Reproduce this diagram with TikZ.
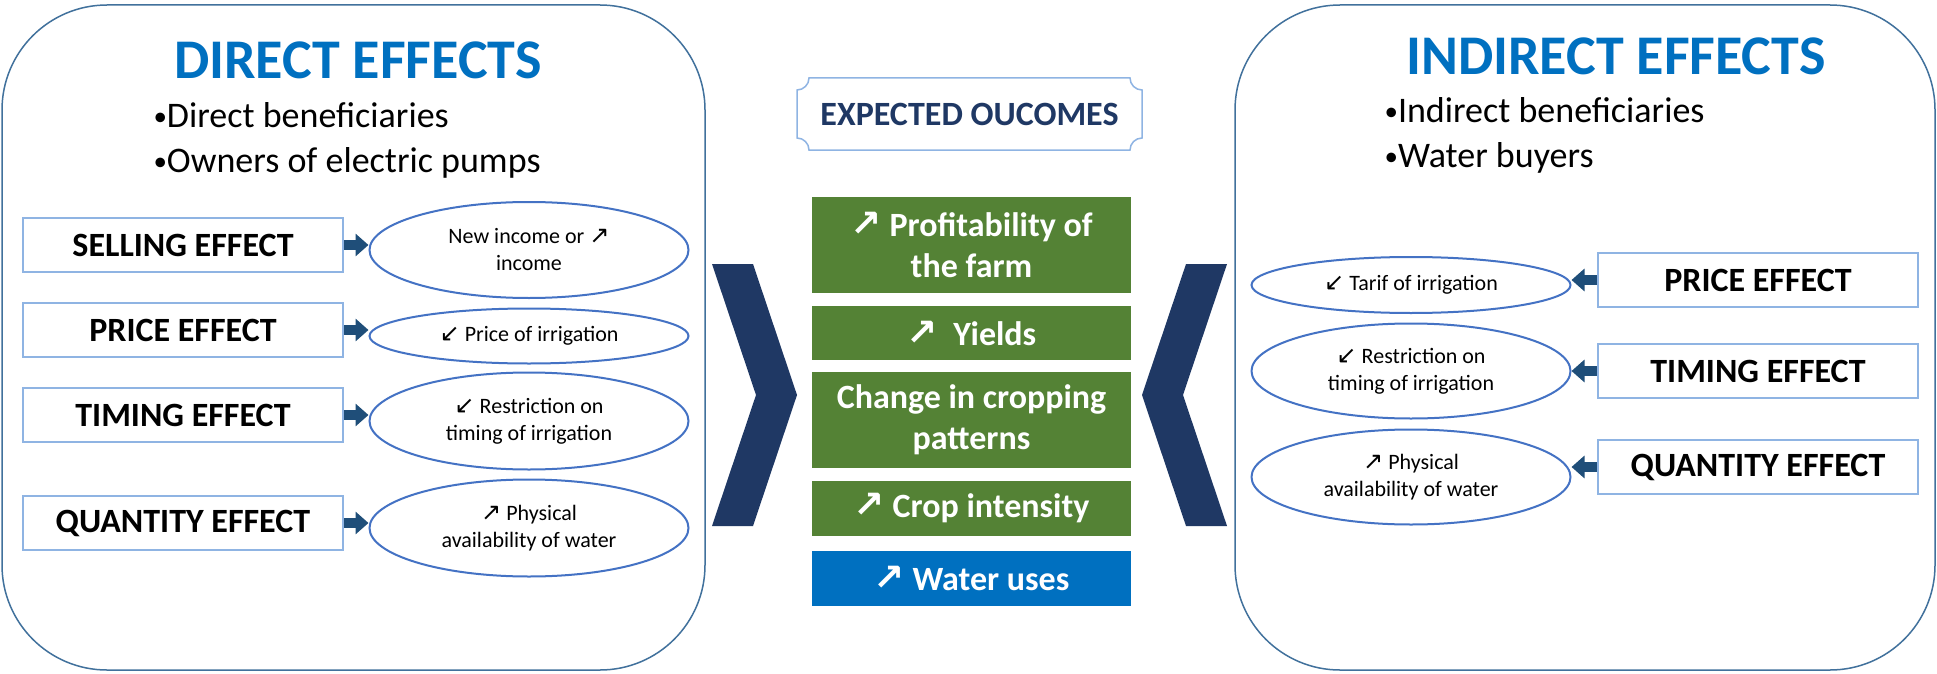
\documentclass[tikz,border=0pt]{standalone}
\usepackage{fontspec}
\setmainfont{Carlito}
\newfontfamily\arrowfont{DejaVu Sans}[Scale=1.1]
\usepackage{tikz}
\usetikzlibrary{
  shapes.geometric, arrows.meta, positioning
}

\definecolor{frameblue}{RGB}{65,113,156}
\definecolor{boxblue}{RGB}{143,180,227}
\definecolor{ellblue}{RGB}{68,114,196}
\definecolor{titleblue}{RGB}{0,112,192}
\definecolor{navy}{RGB}{31,56,100}
\definecolor{pushblue}{RGB}{31,78,121}
\definecolor{farmgreen}{RGB}{84,130,53}

\newcommand{\upar}{{\arrowfont\char"2197}}
\newcommand{\dnar}{{\arrowfont\char"2199}}
\newcommand{\dotmark}{{\fontsize{27}{27}\selectfont\raisebox{1.5pt}{•}}}

\begin{document}
\begin{tikzpicture}
      [x=1pt, y=-1pt,
       panel/.style={draw=frameblue, line width=1.5pt, rounded corners=105pt},
       heading/.style={text=titleblue, font=\bfseries\fontsize{56}{60}\selectfont},
       who/.style={anchor=west, align=left, font=\fontsize{36}{45}\selectfont},
       effect/.style={rectangle, draw=boxblue, line width=2pt, minimum width=320pt,
                      minimum height=54pt, inner sep=0pt, font=\bfseries\fontsize{34}{41}\selectfont},
       result/.style={ellipse, draw=ellblue, line width=2pt, minimum width=319pt,
                      inner sep=0pt, align=center, font=\fontsize{22}{27}\selectfont},
       outcome/.style={rectangle, fill=farmgreen, text=white, minimum width=319pt,
                       inner sep=0pt, align=center, font=\bfseries\fontsize{34}{41}\selectfont},
       push/.style={-{Triangle[width=22pt, length=13pt]}, line width=10pt, pushblue},
       chev/.style={fill=navy}]
      \useasboundingbox[fill=white] (0,0) rectangle (1937,674);

      \draw[panel] (2,5) rectangle (705,670);
      \draw[panel] (1235,5) rectangle (1935,670);

      \node (dtitle) at (358,60) [heading] {DIRECT EFFECTS};
      \node (dwho) at (150,140) [who] {\dotmark Direct beneficiaries\\\dotmark Owners of electric pumps};

      \node (D1) at (183,245) [effect] {SELLING EFFECT};
      \node (D2) at (183,330) [effect] {PRICE EFFECT};
      \node (D3) at (183,415) [effect] {TIMING EFFECT};
      \node (D4) at (183,523) [effect] {QUANTITY EFFECT};

      \node (DR1) at (529,250) [result, minimum height=96pt] {New income or \upar\\income};
      \node (DR2) at (529,336) [result, minimum height=55pt] {\dnar\ Price of irrigation};
      \node (DR3) at (529,421) [result, minimum height=97pt] {\dnar\ Restriction on\\timing of irrigation};
      \node (DR4) at (529,528) [result, minimum height=97pt] {\upar\ Physical\\availability of water};

      \draw[push] (D1.east) -- (D1.east -| DR1.west);
      \draw[push] (D2.east) -- (D2.east -| DR2.west);
      \draw[push] (D3.east) -- (D3.east -| DR3.west);
      \draw[push] (D4.east) -- (D4.east -| DR4.west);

      \draw[draw=boxblue, line width=1.5pt] (809,78) -- (1130,78)
        .. controls (1130,84.6) and (1135.4,90) .. (1142,90) -- (1142,138)
        .. controls (1135.4,138) and (1130,143.4) .. (1130,150) -- (809,150)
        .. controls (809,143.4) and (803.6,138) .. (797,138) -- (797,90)
        .. controls (803.6,90) and (809,84.6) .. (809,78) -- cycle;
      \node (expo) at (969.5,114) [text=navy, font=\bfseries\fontsize{34}{41}\selectfont] {EXPECTED OUCOMES};

      \node (M1) at (971.5,245) [outcome, minimum height=96pt] {\upar\ Profitability of\\the farm};
      \node (M2) at (971.5,333) [outcome, minimum height=54pt] {\upar\ \ Yields};
      \node (M3) at (971.5,420) [outcome, minimum height=96pt] {Change in cropping\\patterns};
      \node (M4) at (971.5,508.5) [outcome, minimum height=55pt] {\upar\ Crop intensity};
      \node (M5) at (971.5,578.5) [outcome, fill=titleblue, minimum height=55pt] {\upar\ Water uses};

      \fill[chev] (712,264) -- (753,264) -- (797,395) -- (753,526) -- (712,526) -- (756,395) -- cycle;
      \fill[chev] (1227,264) -- (1186,264) -- (1142,395) -- (1186,526) -- (1227,526) -- (1183,395) -- cycle;

      \node (ititle) at (1616,56) [heading] {INDIRECT EFFECTS};
      \node (iwho) at (1381,135) [who] {\dotmark Indirect beneficiaries\\\dotmark Water buyers};

      \node (I1) at (1758,280) [effect] {PRICE EFFECT};
      \node (I2) at (1758,371) [effect] {TIMING EFFECT};
      \node (I3) at (1758,467) [effect] {QUANTITY EFFECT};

      \node (IR1) at (1411,285) [result, minimum height=56pt] {\dnar\ Tarif of irrigation};
      \node (IR2) at (1411,371) [result, minimum height=95pt] {\dnar\ Restriction on\\timing of irrigation};
      \node (IR3) at (1411,477) [result, minimum height=95pt] {\upar\ Physical\\availability of water};

      \draw[push] (I1.west) -- (I1.west -| IR1.east);
      \draw[push] (I2.west) -- (I2.west -| IR2.east);
      \draw[push] (I3.west) -- (I3.west -| IR3.east);
      \end{tikzpicture}
\end{document}
